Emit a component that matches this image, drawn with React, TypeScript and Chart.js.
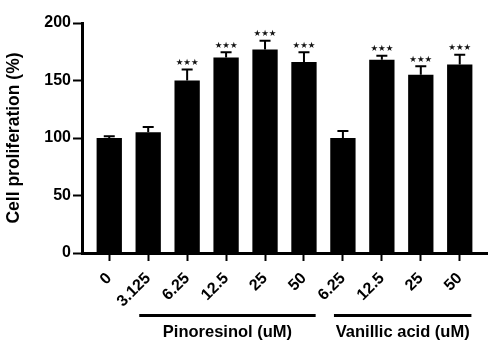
import React, { useEffect, useRef } from "react";
import { Chart, registerables } from "chart.js";

Chart.register(...registerables);

const categories = ["0", "3.125", "6.25", "12.5", "25", "50", "6.25", "12.5", "25", "50"];
const means = [100, 105, 150, 170, 177, 166, 100, 168, 155, 164];
const errors = [1.5, 4.5, 9.5, 4.5, 7.5, 8.5, 6, 3.5, 7.5, 8.5];
const significance = ["", "", "★★★", "★★★", "★★★", "★★★", "", "★★★", "★★★", "★★★"];
const groupLabels = ["Pinoresinol (uM)", "Vanillic acid (uM)"];
const groupStart = [1, 6];
const groupEnd = [5, 9];
const yTicks = [0, 50, 100, 150, 200];

const FONT = "'Liberation Sans', Arial, sans-serif";

const errorBarPlugin = {
  id: "errorBars",
  afterDatasetsDraw(chart: any) {
    const { ctx, scales } = chart;
    const x = scales.x;
    const y = scales.y;
    ctx.save();
    ctx.strokeStyle = "#000";
    ctx.lineWidth = 2;
    ctx.fillStyle = "#111";
    ctx.font = `8.5px 'DejaVu Sans', sans-serif`;
    ctx.textAlign = "center";
    ctx.textBaseline = "alphabetic";
    means.forEach((m, i) => {
      const px = x.getPixelForValue(i);
      const yTop = y.getPixelForValue(m + errors[i]);
      const yBar = y.getPixelForValue(m);
      ctx.beginPath();
      ctx.moveTo(px, yBar);
      ctx.lineTo(px, yTop);
      ctx.moveTo(px - 5.5, yTop);
      ctx.lineTo(px + 5.5, yTop);
      ctx.stroke();
      const s = significance[i];
      if (s) {
        const mt = ctx.measureText(s);
        const below = mt.actualBoundingBoxDescent;
        ctx.fillText(s, px, yTop - 3.5 - below);
      }
    });
    ctx.restore();
  },
};

const groupPlugin = {
  id: "groups",
  afterDraw(chart: any) {
    const { ctx, scales, chartArea } = chart;
    const x = scales.x;
    ctx.save();
    ctx.strokeStyle = "#000";
    ctx.fillStyle = "#000";
    ctx.lineWidth = 3;
    ctx.font = `bold 16.5px ${FONT}`;
    ctx.textAlign = "center";
    ctx.textBaseline = "alphabetic";
    groupLabels.forEach((label, g) => {
      const x0 = x.getPixelForValue(groupStart[g] - 0.23);
      const x1 = x.getPixelForValue(groupEnd[g] + 0.3);
      const ly = chartArea.bottom + 62.5;
      ctx.beginPath();
      ctx.moveTo(x0, ly);
      ctx.lineTo(x1, ly);
      ctx.stroke();
      ctx.fillText(label, (x0 + x1) / 2, chartArea.bottom + 84);
    });
    ctx.restore();
  },
};

export default function App() {
  const ref = useRef<HTMLCanvasElement | null>(null);
  useEffect(() => {
    document.body.style.margin = "0";
    const canvas = ref.current!;
    const chart = new Chart(canvas, {
      type: "bar",
      data: {
        datasets: [
          {
            data: means.map((v, i) => ({ x: i, y: v })),
            backgroundColor: "#000",
            borderColor: "#000",
            borderWidth: 0,
            barPercentage: 0.65,
            categoryPercentage: 1,
          },
        ],
      },
      options: {
        animation: false,
        responsive: false,
        layout: { padding: { top: 23, right: 3, left: 0, bottom: 0 } },
        plugins: { legend: { display: false }, tooltip: { enabled: false } },
        scales: {
          x: {
            type: "linear",
            min: -0.7,
            max: 9.7,
            offset: false,
            afterBuildTicks: (s: any) => {
              s.ticks = categories.map((_, i) => ({ value: i }));
            },
            afterFit: (s: any) => {
              s.height = 99;
            },
            border: { display: true, color: "#000", width: 3 },
            grid: {
              display: true,
              offset: false,
              drawOnChartArea: false,
              drawTicks: true,
              tickLength: 8,
              tickWidth: 2,
              tickColor: "#000",
            },
            ticks: {
              autoSkip: false,
              maxRotation: 45,
              minRotation: 45,
              padding: 8,
              color: "#000",
              font: { family: FONT, size: 16, weight: "bold" },
              callback: (v: any) => categories[v as number] ?? "",
            },
          },
          y: {
            min: 0,
            max: 200,
            afterBuildTicks: (s: any) => {
              s.ticks = yTicks.map((v) => ({ value: v }));
            },
            afterFit: (s: any) => {
              s.width = 82;
            },
            border: { display: true, color: "#000", width: 3 },
            grid: {
              display: true,
              drawOnChartArea: false,
              drawTicks: true,
              tickLength: 9,
              tickWidth: 2,
              tickColor: "#000",
            },
            ticks: {
              padding: 2,
              color: "#000",
              font: { family: FONT, size: 16, weight: "bold" },
            },
            title: {
              display: true,
              text: "Cell proliferation (%)",
              color: "#000",
              font: { family: FONT, size: 17.5, weight: "bold" },
              padding: { top: 4, bottom: 0 },
            },
          },
        },
      },
      plugins: [errorBarPlugin, groupPlugin],
    });
    return () => chart.destroy();
  }, []);
  return (
    <div style={{ width: 490, height: 352 }}>
      <canvas ref={ref} width={490} height={352} />
    </div>
  );
}
